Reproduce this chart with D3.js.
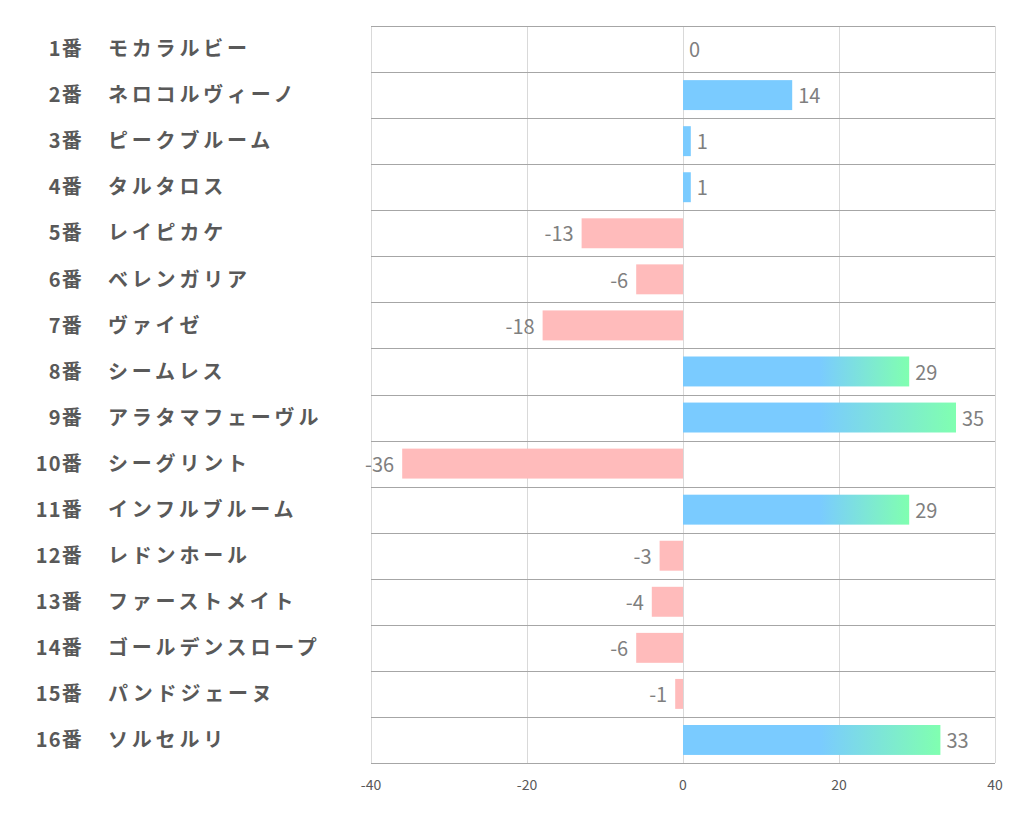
<!DOCTYPE html>
<html><head><meta charset="utf-8">
<script src="https://cdn.jsdelivr.net/npm/d3@7"></script>
<style>body{margin:0;background:#fff}</style>
</head><body><svg id="c" width="1022" height="834"></svg>
<script>
const numbers = ["1番","2番","3番","4番","5番","6番","7番","8番","9番","10番","11番","12番","13番","14番","15番","16番"];
const names = ["モカラルビー","ネロコルヴィーノ","ピークブルーム","タルタロス","レイピカケ","ベレンガリア","ヴァイゼ","シームレス","アラタマフェーヴル","シーグリント","インフルブルーム","レドンホール","ファーストメイト","ゴールデンスロープ","パンドジェーヌ","ソルセルリ"];
const values = [0,14,1,1,-13,-6,-18,29,35,-36,29,-3,-4,-6,-1,33];
const ticks = [-40,-20,0,20,40];

const svg = d3.select("#c");
const font = "'Noto Sans CJK JP','Noto Sans',sans-serif";
const x = d3.scaleLinear().domain([-40,40]).range([371,995]);
const y = d3.scaleBand().domain(d3.range(values.length)).range([26,763]).paddingInner(0.35).paddingOuter(0.175);
const step = y.step();
const rowTop = i => 26 + i*step;

svg.append("g").selectAll("line").data(ticks).join("line")
  .attr("x1",d=>x(d)).attr("x2",d=>x(d)).attr("y1",26).attr("y2",763)
  .attr("stroke","#d9d9d9").attr("stroke-width",1).attr("shape-rendering","crispEdges");
svg.append("g").selectAll("line").data(d3.range(values.length+1)).join("line")
  .attr("x1",371).attr("x2",995).attr("y1",d=>Math.round(rowTop(d))+0.5).attr("y2",d=>Math.round(rowTop(d))+0.5)
  .attr("stroke","#a6a6a6").attr("stroke-width",1);

const defs = svg.append("defs");
values.forEach((v,i)=>{
  if (v>0 && x(v) > x(17.5)) {
    const g = defs.append("linearGradient").attr("id","g"+i).attr("gradientUnits","userSpaceOnUse")
      .attr("x1",x(17.5)).attr("x2",x(v)).attr("y1",0).attr("y2",0);
    g.append("stop").attr("offset",0).attr("stop-color","#7acbff");
    g.append("stop").attr("offset",1).attr("stop-color","#80ffb0");
  }
});

svg.append("g").selectAll("rect").data(values).join("rect")
  .attr("x",d=>x(Math.min(0,d))).attr("width",d=>Math.abs(x(d)-x(0)))
  .attr("y",(d,i)=>y(i)).attr("height",y.bandwidth())
  .attr("fill",(d,i)=> d<0 ? "#ffbbbb" : (x(d)>x(17.5) ? `url(#g${i})` : "#7acbff"));

svg.append("g").selectAll("text").data(values).join("text")
  .attr("x",d=> d<0 ? x(d)-8 : x(d)+6)
  .attr("y",(d,i)=>y(i)+y.bandwidth()/2+1)
  .attr("dy","0.36em")
  .attr("text-anchor",d=>d<0?"end":"start")
  .attr("font-family",font).attr("font-size",20).attr("fill","#7f7f7f")
  .text(d=>d);

const lab = svg.append("g");
lab.selectAll("text.n").data(numbers).join("text").attr("class","n")
  .attr("x",83).attr("y",(d,i)=>rowTop(i)+step/2).attr("dy","0.36em")
  .attr("text-anchor","end").attr("font-family",font).attr("font-weight","bold")
  .attr("font-size",20).attr("letter-spacing","1.2px").attr("fill","#595959").text(d=>d);
lab.selectAll("text.m").data(names).join("text").attr("class","m")
  .attr("x",108).attr("y",(d,i)=>rowTop(i)+step/2).attr("dy","0.36em")
  .attr("text-anchor","start").attr("font-family",font).attr("font-weight","bold")
  .attr("font-size",20).attr("letter-spacing","3.8px").attr("fill","#595959").text(d=>d);

svg.append("g").selectAll("text").data(ticks).join("text")
  .attr("x",d=>x(d)).attr("y",790).attr("text-anchor","middle")
  .attr("font-family",font).attr("font-size",14).attr("fill","#595959").text(d=>d);
</script></body></html>
